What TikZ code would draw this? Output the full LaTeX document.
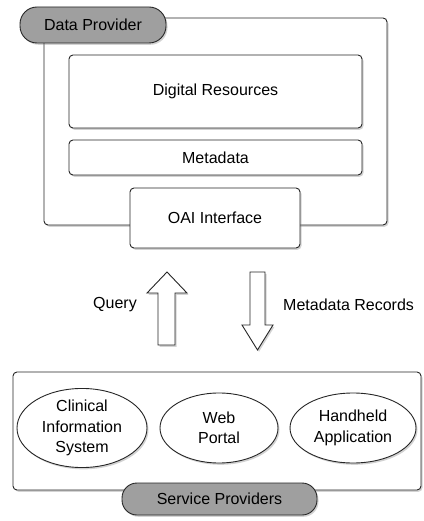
\documentclass[tikz,border=0pt]{standalone}
\usepackage{fontspec}
\setmainfont{Liberation Sans}
\usetikzlibrary{shapes.geometric,shadows}
\begin{document}
\begin{tikzpicture}[x=1pt,y=-1pt,
  font=\fontsize{16}{20.5}\selectfont,
  shad/.style={drop shadow={shadow xshift=1.5pt,shadow yshift=-1.8pt,opacity=0.35}},
  box/.style={draw=black!85, line width=0.9pt, rounded corners=4pt, fill=white, inner sep=0pt, shad},
  pill/.style={draw=black!85, line width=0.9pt, fill=gray!75, inner sep=0pt, shad},
  oval/.style={ellipse, draw=black!85, line width=0.9pt, fill=white, inner sep=0pt, align=center, shad},
  bigarrow/.style={draw=black!85, line width=0.9pt, fill=white, shad}]
\useasboundingbox (0,0) rectangle (423,521);
% Data provider
\node[box, minimum width=343pt, minimum height=207pt] (dp) at (215.5,121.5) {};
\node[box, minimum width=293pt, minimum height=73pt] (dr) at (215.5,91.5) {Digital Resources};
\node[box, minimum width=293pt, minimum height=35pt] (md) at (215.5,157.5) {Metadata};
\node[box, minimum width=170pt, minimum height=60pt] (oai) at (215,218) {OAI Interface};
\node[pill, rounded corners=17pt, minimum width=146pt, minimum height=36pt] (dpl) at (93,25) {Data Provider};
% Arrows
\path[bigarrow] (167,272) -- (187,293) -- (175,293) -- (175,345) -- (158,345) -- (158,293) -- (147,293) -- cycle;
\path[bigarrow] (250,272) -- (265,272) -- (265,325) -- (273,325) -- (257.5,350) -- (242,325) -- (250,325) -- cycle;
\node (q) at (115,305) {Query};
\node[anchor=west, inner sep=0pt] (mr) at (283,305) {Metadata Records};
% Service providers
\node[box, minimum width=408pt, minimum height=118pt] (sp) at (217,431) {};
\node[oval, minimum width=130pt, minimum height=70pt] (cis) at (82,428) {Clinical\\Information\\System};
\node[oval, minimum width=118pt, minimum height=70pt] (web) at (219,428) {Web\\Portal};
\node[oval, minimum width=126pt, minimum height=70pt] (hh) at (353,428) {Handheld\\Application};
\node[pill, rounded corners=15pt, minimum width=195pt, minimum height=32pt] (spl) at (219.5,499) {Service Providers};
\end{tikzpicture}
\end{document}
